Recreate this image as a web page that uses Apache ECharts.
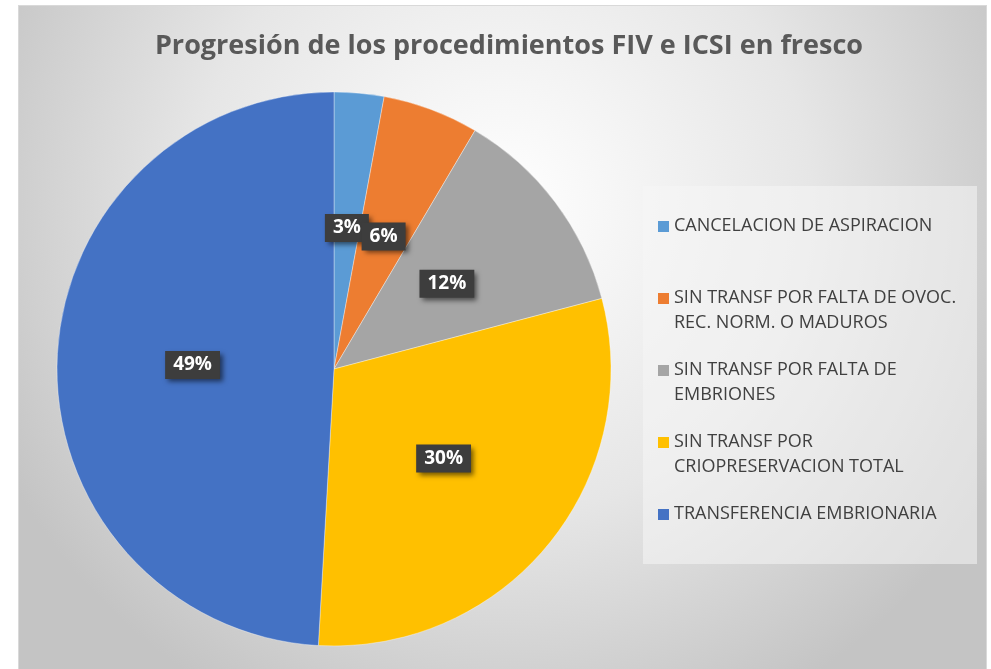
<!DOCTYPE html>
<html>
<head>
<meta charset="utf-8">
<style>
  html, body { margin: 0; padding: 0; background: #fff; }
  #chart {
    position: absolute; left: 18px; top: 5px;
    width: 969px; height: 664px;
    box-sizing: border-box;
    border: 1px solid #d9d9d9; border-bottom: none;
  }
</style>
<script src="https://cdn.jsdelivr.net/npm/echarts@6/dist/echarts.min.js"></script>
</head>
<body>
<div id="chart"></div>
<script>
  // slice names (as the series knows them) and the wrapped text the legend shows
  var categories = [
    'CANCELACION DE ASPIRACION',
    'SIN TRANSF POR FALTA DE OVOC. REC. NORM. O MADUROS',
    'SIN TRANSF POR FALTA DE EMBRIONES',
    'SIN TRANSF POR CRIOPRESERVACION TOTAL',
    'TRANSFERENCIA EMBRIONARIA'
  ];
  var legendLines = [
    ['CANCELACION DE ASPIRACION', ' '],
    ['SIN TRANSF POR FALTA DE OVOC.', 'REC. NORM. O MADUROS'],
    ['SIN TRANSF POR FALTA DE', 'EMBRIONES'],
    ['SIN TRANSF POR', 'CRIOPRESERVACION TOTAL'],
    ['TRANSFERENCIA EMBRIONARIA', ' ']
  ];
  // share of procedures
  var values = [2.9, 5.6, 12.4, 30.0, 49.1];
  var colors = ['#5b9bd5', '#ed7d31', '#a5a5a5', '#ffc000', '#4472c4'];

  // square at the top of a taller box, so the marker sits on the first text line
  var legendIcon = 'path://M0,0L11,0L11,11L0,11Z M0,35L0.01,35';

  var chart = echarts.init(document.getElementById('chart'));

  var pieData = categories.map(function (name, i) {
    return { name: name, value: values[i], itemStyle: { color: colors[i] } };
  });

  chart.setOption({
    backgroundColor: {
      type: 'radial', x: 0.5, y: 0.3, r: 0.85,
      colorStops: [
        { offset: 0, color: '#ffffff' },
        { offset: 0.55, color: '#e6e6e6' },
        { offset: 1, color: '#c4c4c4' }
      ]
    },
    title: {
      text: 'Progresión de los procedimientos FIV e ICSI en fresco',
      left: 485, top: 22, textAlign: 'center',
      textStyle: { fontFamily: 'Open Sans', fontWeight: 'bold', fontSize: 27, color: '#595959' }
    },
    graphic: [{
      type: 'rect', z: 0,
      shape: { x: 624, y: 180, width: 334, height: 378 },
      style: { fill: 'rgba(245,245,245,0.55)' }
    }],
    legend: {
      orient: 'vertical',
      left: 639, top: 208,
      padding: 0,
      itemGap: 23,
      itemWidth: 11, itemHeight: 35,
      icon: legendIcon,
      itemStyle: { borderWidth: 0 },
      data: categories,
      formatter: function (name) {
        return legendLines[categories.indexOf(name)].join('\n');
      },
      textStyle: {
        fontFamily: 'Open Sans', fontSize: 18, color: '#404040',
        lineHeight: 24.5
      }
    },
    series: [{
      type: 'pie',
      center: [315, 363],
      radius: 277,
      startAngle: 90,
      clockwise: true,
      avoidLabelOverlap: false,
      data: pieData,
      itemStyle: { borderColor: 'rgba(255,255,255,0.6)', borderWidth: 0.6 },
      emphasis: { disabled: true },
      labelLine: { show: false },
      labelLayout: { hideOverlap: false },
      label: {
        show: true,
        position: 'inside',
        formatter: '{d}%',
        fontFamily: 'Open Sans', fontWeight: 'bold', fontSize: 19, color: '#ffffff',
        backgroundColor: '#3d3d3d',
        padding: [5, 8, 4, 8],
        shadowColor: 'rgba(0,0,0,0.55)', shadowBlur: 5, shadowOffsetX: 3, shadowOffsetY: 3
      },
      percentPrecision: 0
    }]
  });
</script>
</body>
</html>
